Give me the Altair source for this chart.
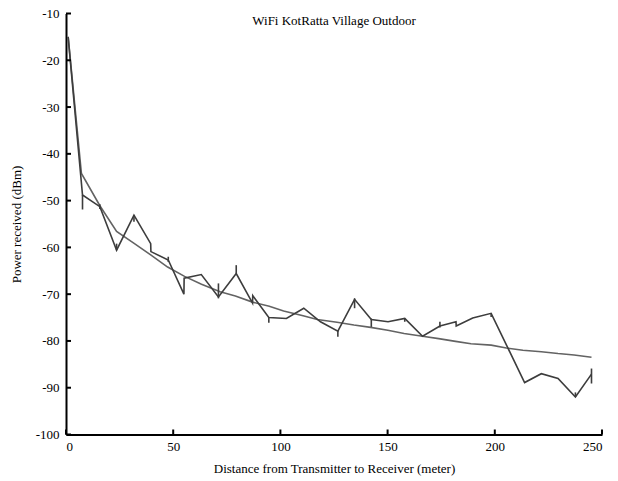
import altair as alt
import pandas as pd

# Measured received power, line vertices in drawing order (distance in m, power in dBm)
meas_dist = [1, 7.7, 15.8, 23.6, 31.7, 39.5, 39.6, 47.7, 55.0, 55.1, 63.1, 71.1, 79.4,
             87.0, 87.1, 94.6, 102.8, 110.9, 118.7, 126.8, 134.6, 142.4, 150.2, 158.0,
             166.3, 174.4, 181.9, 182.0, 189.7, 198.3, 213.9, 221.7, 229.5, 237.6, 245.1]
meas_dbm = [-15, -48.8, -51.3, -60.6, -53.1, -59.2, -60.9, -62.7, -70.0, -66.6, -65.8, -70.6, -65.6,
            -71.9, -70.3, -75.0, -75.2, -73.0, -75.9, -77.9, -71.1, -75.4, -75.9, -75.2,
            -79.0, -76.8, -75.9, -76.8, -75.1, -74.1, -88.9, -87.0, -88.0, -92.0, -87.1]

# Spread of the readings at each measuring spot
bar_dist = [7.7, 15.8, 23.6, 31.7, 47.7, 71.1, 79.4, 94.6, 126.8, 134.6, 142.4, 158.0, 174.4, 198.3, 237.6, 245.1]
bar_lo = [-51.9, -51.8, -60.6, -54.5, -63.1, -70.9, -65.6, -76.1, -79.1, -73.0, -77.0, -75.9, -77.1, -74.9, -92.0, -89.1]
bar_hi = [-48.8, -50.8, -59.2, -53.1, -62.0, -67.7, -63.8, -74.9, -77.9, -70.9, -75.2, -75.2, -75.9, -74.0, -91.0, -85.9]

# Path-loss model curve
fit_dist = [1, 7.2, 15.8, 23.6, 31.6, 39.5, 47.4, 55.3, 63.2, 71.9, 79.0, 87.0, 94.8, 101.5,
            110.6, 117.2, 126.4, 134.3, 142.1, 150.1, 157.7, 166.3, 173.8, 181.7, 188.9, 198.3,
            205.4, 213.1, 221.7, 229.5, 237.0, 245.1]
fit_dbm = [-15, -44.2, -51.1, -56.6, -59.1, -61.6, -64.2, -66.2, -67.9, -69.5, -70.4, -71.7, -72.6, -73.6,
           -74.6, -75.4, -76.0, -76.6, -77.1, -77.7, -78.4, -79.0, -79.5, -80.1, -80.6, -80.9,
           -81.5, -82.0, -82.3, -82.7, -83.0, -83.5]

x_ticks = [0, 50, 100, 150, 200, 250]
y_ticks = [-100, -90, -80, -70, -60, -50, -40, -30, -20, -10]

W, H = 536, 421
FONT = "Liberation Serif"

meas = pd.DataFrame({"d": meas_dist, "p": meas_dbm, "i": list(range(len(meas_dist)))})
bars = pd.DataFrame({"d": bar_dist, "lo": bar_lo, "hi": bar_hi})
fit = pd.DataFrame({"d": fit_dist, "p": fit_dbm, "i": list(range(len(fit_dist)))})

xs = alt.Scale(domain=[0, 250], nice=False, zero=False)
ys = alt.Scale(domain=[-100, -10], nice=False, zero=False)

x_axis = alt.Axis(values=x_ticks, title="Distance from Transmitter to Receiver (meter)",
                  labelPadding=6, titlePadding=9, labelExpr="toString(datum.value)")
y_axis = alt.Axis(values=y_ticks, title="Power received (dBm)", labelPadding=7, titlePadding=12,
                  labelExpr="toString(datum.value)")

fit_line = alt.Chart(fit).mark_line(color="#636363", strokeWidth=1.6).encode(
    x=alt.X("d:Q", scale=xs, axis=x_axis),
    y=alt.Y("p:Q", scale=ys, axis=y_axis),
    order="i:Q",
)

meas_line = alt.Chart(meas).mark_line(color="#3d3d3d", strokeWidth=1.6).encode(
    x=alt.X("d:Q", scale=xs),
    y=alt.Y("p:Q", scale=ys),
    order="i:Q",
)

err = alt.Chart(bars).mark_rule(color="#3d3d3d", strokeWidth=1.6).encode(
    x=alt.X("d:Q", scale=xs),
    y=alt.Y("lo:Q", scale=ys),
    y2="hi:Q",
)

# Inward-pointing tick marks on both axes
xt = alt.Chart(pd.DataFrame({"t": x_ticks})).mark_rule(color="black", strokeWidth=2).encode(
    x=alt.X("t:Q", scale=xs),
    y=alt.value(H),
    y2=alt.value(H - 5),
)
yt = alt.Chart(pd.DataFrame({"t": y_ticks})).mark_rule(color="black", strokeWidth=2).encode(
    y=alt.Y("t:Q", scale=ys),
    x=alt.value(0),
    x2=alt.value(5),
)

chart = alt.layer(fit_line, meas_line, err, xt, yt).properties(
    width=W,
    height=H,
    background="white",
    title=alt.TitleParams("WiFi KotRatta Village Outdoor", font=FONT, fontSize=13,
                          fontWeight="normal", color="black", anchor="middle", offset=-20),
    padding={"left": 66, "top": 13.5, "right": 16, "bottom": 46.5},
    autosize=alt.AutoSizeParams(type="none"),
).configure_view(stroke=None).configure_axis(
    grid=False,
    ticks=False,
    domainColor="black",
    domainWidth=2,
    labelFont=FONT,
    labelFontSize=13,
    labelColor="black",
    titleFont=FONT,
    titleFontSize=13,
    titleFontWeight="normal",
    titleColor="black",
)

chart.save("out.html", embed_options={"renderer": "svg", "actions": False})
